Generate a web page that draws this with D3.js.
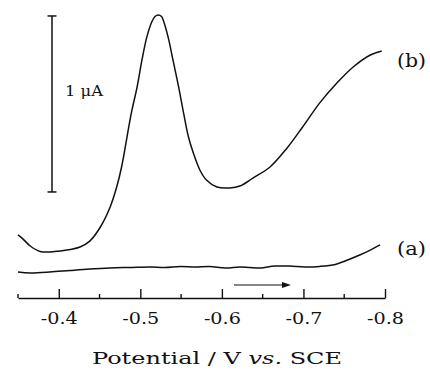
<!DOCTYPE html>
<html><head><meta charset="utf-8">
<script src="https://cdn.jsdelivr.net/npm/d3@7"></script>
<style>body{margin:0;background:#fff}svg{display:block}</style>
</head><body>
<script>
// Potential (V vs SCE) and current (µA, arbitrary offset)
const potentialB = [-0.350,-0.355,-0.365,-0.377,-0.389,-0.401,-0.414,-0.426,-0.438,-0.451,-0.463,-0.471,-0.477,-0.483,-0.489,-0.496,-0.502,-0.508,-0.514,-0.518,-0.522,-0.526,-0.528,-0.534,-0.540,-0.547,-0.553,-0.559,-0.565,-0.573,-0.581,-0.594,-0.610,-0.622,-0.638,-0.659,-0.680,-0.699,-0.720,-0.741,-0.761,-0.782,-0.796];
const currentB = [0.313,0.295,0.250,0.219,0.216,0.222,0.230,0.244,0.278,0.358,0.472,0.585,0.699,0.852,1.006,1.153,1.307,1.438,1.523,1.554,1.563,1.554,1.534,1.438,1.307,1.153,1.006,0.869,0.778,0.682,0.625,0.585,0.580,0.591,0.636,0.699,0.807,0.926,1.063,1.176,1.267,1.335,1.358];
const potentialA = [-0.350,-0.365,-0.389,-0.414,-0.438,-0.463,-0.487,-0.512,-0.530,-0.549,-0.567,-0.585,-0.604,-0.622,-0.634,-0.647,-0.665,-0.683,-0.702,-0.720,-0.739,-0.751,-0.769,-0.782,-0.794];
const currentA = [0.102,0.097,0.102,0.111,0.119,0.125,0.128,0.131,0.128,0.134,0.131,0.134,0.125,0.131,0.128,0.125,0.136,0.136,0.131,0.134,0.145,0.165,0.199,0.227,0.256];
const majorTicks = [-0.4,-0.5,-0.6,-0.7,-0.8];
const minorTicks = [-0.35,-0.45,-0.55,-0.65,-0.75];
const tickLabels = ["-0.4","-0.5","-0.6","-0.7","-0.8"];
const scaleBarStart = 0.557, scaleBarSize = 1; // µA
const seriesLabels = ["(a)","(b)"];

const W = 430, H = 372;
const svg = d3.select("body").append("svg").attr("width", W).attr("height", H);
const x = d3.scaleLinear().domain([-0.35, -0.8]).range([18, 385]);
const y = d3.scaleLinear().domain([0, 1]).range([290, 114]);
const axisY = 298;
const font = "'DejaVu Serif', 'Liberation Serif', serif";

// axis
const gx = svg.append("g").attr("transform", `translate(0,${axisY})`);
gx.call(d3.axisBottom(x).tickValues(majorTicks).tickSize(-9).tickSizeOuter(0)
  .tickFormat((d,i)=>tickLabels[i]));
gx.select(".domain").attr("stroke", "#111").attr("stroke-width", 1.6);
gx.selectAll(".tick line").attr("stroke", "#111").attr("stroke-width", 1.4);
gx.selectAll(".tick text").attr("y", 26).attr("dy", null)
  .attr("font-family", font).attr("font-size", 17).attr("fill", "#111")
  .attr("textLength", 37).attr("lengthAdjust", "spacingAndGlyphs");
gx.selectAll(".minor").data(minorTicks).enter().append("line")
  .attr("x1", d=>x(d)).attr("x2", d=>x(d)).attr("y1", 0).attr("y2", -4)
  .attr("stroke", "#111").attr("stroke-width", 1.4);

// curves
const line = d3.line().curve(d3.curveCatmullRom.alpha(0.5));
const ptsB = potentialB.map((v,i)=>[x(v), y(currentB[i])]);
const ptsA = potentialA.map((v,i)=>[x(v), y(currentA[i])]);
svg.append("path").attr("d", line(ptsB)).attr("fill","none").attr("stroke","#111").attr("stroke-width",1.5);
svg.append("path").attr("d", line(ptsA)).attr("fill","none").attr("stroke","#111").attr("stroke-width",1.5);

// series labels
svg.append("text").attr("x", 397).attr("y", 67).text(seriesLabels[1])
  .attr("font-family", font).attr("font-size", 18).attr("fill","#111")
  .attr("textLength", 29).attr("lengthAdjust","spacingAndGlyphs");
svg.append("text").attr("x", 397).attr("y", 255).text(seriesLabels[0])
  .attr("font-family", font).attr("font-size", 18).attr("fill","#111")
  .attr("textLength", 29).attr("lengthAdjust","spacingAndGlyphs");

// scale bar
const bx = 52;
const b0 = y(scaleBarStart), b1 = y(scaleBarStart + scaleBarSize);
const sb = svg.append("g").attr("stroke","#111").attr("stroke-width",1.5);
sb.append("line").attr("x1",bx).attr("x2",bx).attr("y1",b0).attr("y2",b1);
sb.append("line").attr("x1",bx-4.5).attr("x2",bx+4.5).attr("y1",b0).attr("y2",b0);
sb.append("line").attr("x1",bx-4.5).attr("x2",bx+4.5).attr("y1",b1).attr("y2",b1);
svg.append("text").attr("x", 65).attr("y", 96).text("1 μA")
  .attr("font-family", font).attr("font-size", 15).attr("fill","#111")
  .attr("textLength", 38).attr("lengthAdjust","spacingAndGlyphs");

// scan direction arrow
const ay = 285;
svg.append("line").attr("x1", 234).attr("x2", 284).attr("y1", ay).attr("y2", ay)
  .attr("stroke","#111").attr("stroke-width",1.2);
svg.append("path").attr("d", `M${291},${ay} L${282},${ay-3} L${282},${ay+3} Z`).attr("fill","#111");

// axis title
const t = svg.append("text").attr("x", 92).attr("y", 364)
  .attr("font-family", font).attr("font-size", 17.5).attr("fill","#111")
  .attr("textLength", 250).attr("lengthAdjust","spacingAndGlyphs");
t.append("tspan").text("Potential / V ");
t.append("tspan").attr("font-style","italic").text("vs.");
t.append("tspan").text(" SCE");
</script>
</body></html>
